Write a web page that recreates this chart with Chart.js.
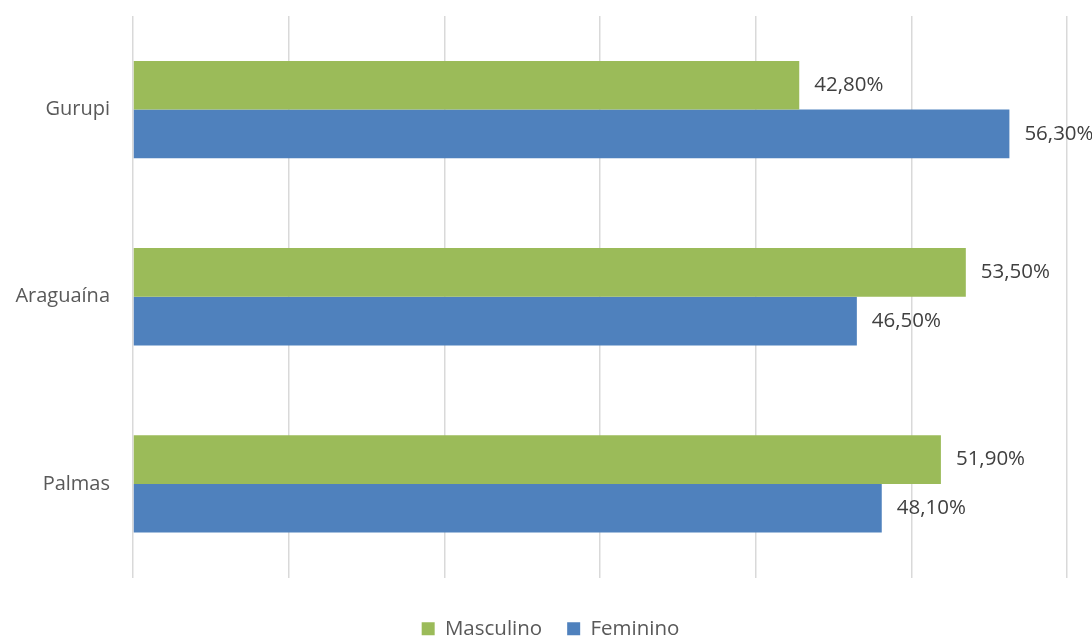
<!DOCTYPE html>
<html>
<head>
<meta charset="utf-8">
<script src="https://cdn.jsdelivr.net/npm/chart.js@4/dist/chart.umd.min.js"></script>
<style>
  html, body { margin: 0; padding: 0; background: #fff; }
  #wrap { width: 1092px; height: 639px; }
</style>
</head>
<body>
<div id="wrap"><canvas id="chart"></canvas></div>
<script>
const cities = ['Gurupi', 'Araguaína', 'Palmas'];
const masculino = [42.8, 53.5, 51.9];
const feminino = [56.3, 46.5, 48.1];

const FONT = "'Open Sans', 'Noto Sans', sans-serif";

// value labels at the end of each bar, e.g. "42,80%"
const barLabels = {
  id: 'barLabels',
  afterDatasetsDraw(chart) {
    const ctx = chart.ctx;
    ctx.save();
    ctx.font = '20.5px ' + FONT;
    ctx.fillStyle = '#404040';
    ctx.textBaseline = 'middle';
    ctx.textAlign = 'left';
    chart.data.datasets.forEach((ds, i) => {
      chart.getDatasetMeta(i).data.forEach((bar, j) => {
        const txt = ds.data[j].toFixed(2).replace('.', ',') + '%';
        ctx.fillText(txt, bar.x + 15, bar.y);
      });
    });
    ctx.restore();
  }
};

// legend sits a bit right of the canvas centre
const legendShift = {
  id: 'legendShift',
  afterLayout(chart) {
    const lg = chart.legend;
    if (!lg) return;
    lg.left += 17;
    lg.right += 17;
  }
};

new Chart(document.getElementById('chart'), {
  type: 'bar',
  data: {
    labels: cities,
    datasets: [
      { label: 'Masculino', data: masculino, backgroundColor: '#9bbb59' },
      { label: 'Feminino', data: feminino, backgroundColor: '#4f81bd' }
    ]
  },
  options: {
    indexAxis: 'y',
    responsive: true,
    maintainAspectRatio: false,
    animation: false,
    categoryPercentage: 0.52,
    barPercentage: 1,
    layout: { padding: { top: 16, right: 25, left: 0, bottom: -10 } },
    scales: {
      x: {
        min: 0, max: 60,
        ticks: { display: false, stepSize: 10 },
        grid: { color: '#d9d9d9', lineWidth: 1.5, drawTicks: false },
        border: { display: false },
        afterFit(scale) { scale.height = 16; }
      },
      y: {
        ticks: { color: '#595959', font: { family: FONT, size: 20 }, padding: 23 },
        grid: { display: false, drawTicks: false },
        border: { display: false },
        afterFit(scale) {
          scale.width = 133;
          scale.paddingTop = 0;
          scale.paddingBottom = 0;
        }
      }
    },
    plugins: {
      legend: {
        position: 'bottom',
        labels: {
          color: '#595959',
          font: { family: FONT, size: 20.5, lineHeight: 1 },
          boxWidth: 13, boxHeight: 13,
          padding: 25
        }
      },
      tooltip: { enabled: false }
    }
  },
  plugins: [barLabels, legendShift]
});
</script>
</body>
</html>
